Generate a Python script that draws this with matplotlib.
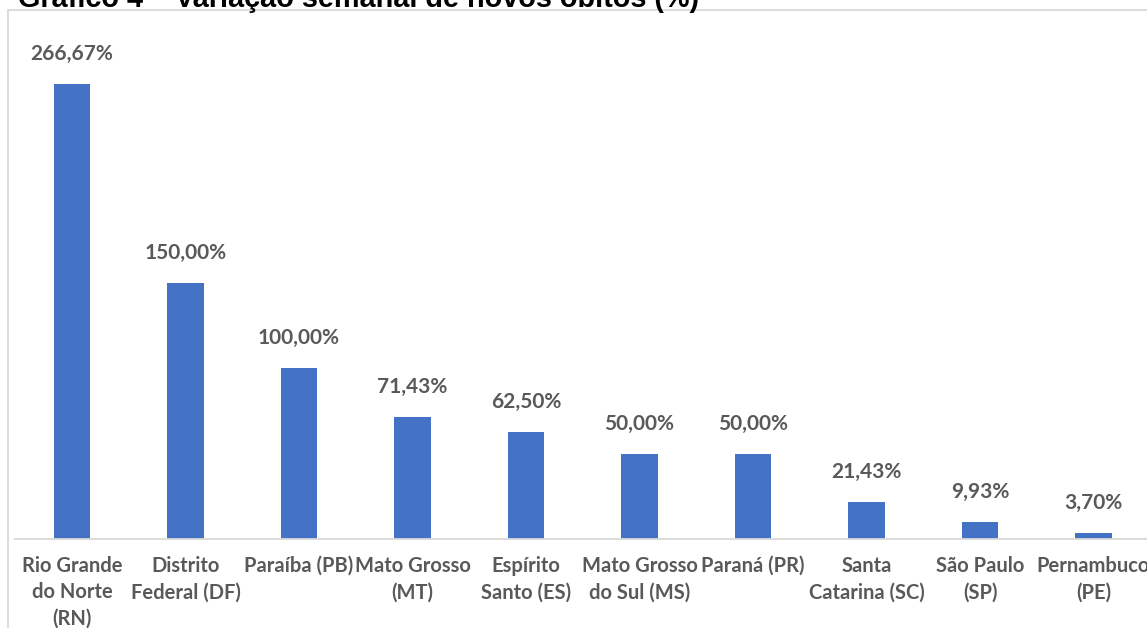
import matplotlib.pyplot as plt
from matplotlib.patches import Rectangle

# dados do gráfico
estados = ["Rio Grande\ndo Norte\n(RN)", "Distrito\nFederal (DF)", "Paraíba (PB)",
           "Mato Grosso\n(MT)", "Espírito\nSanto (ES)", "Mato Grosso\ndo Sul (MS)",
           "Paraná (PR)", "Santa\nCatarina (SC)", "São Paulo\n(SP)", "Pernambuco\n(PE)"]
variacao = [266.67, 150.00, 100.00, 71.43, 62.50, 50.00, 50.00, 21.43, 9.93, 3.70]

W, H = 1147, 628
fig = plt.figure(figsize=(W / 100, H / 100), dpi=100)

# moldura cinza do gráfico (cortada na direita e em baixo)
fig.patches.append(Rectangle((8 / W, -0.1), 1.2, 1 - 10 / H + 0.1, transform=fig.transFigure,
                             fill=False, edgecolor="#d9d9d9", linewidth=1.3))

fig.text(18 / W, 1 - 7 / H, "Gráfico 4 – Variação semanal de novos óbitos (%)",
         family="Liberation Sans", weight="bold", fontsize=20.8, va="baseline", ha="left")

ax = fig.add_axes([15.25 / W, (H - 539) / H, 1135 / W, 529 / H])
x = range(len(estados))
ax.bar(x, variacao, width=0.32, color="#4472C4")
ax.set_xlim(-0.5, len(estados) - 0.5)
ax.set_ylim(0, 310)

for i, v in zip(x, variacao):
    txt = f"{v:.2f}".replace(".", ",") + "%"
    ax.annotate(txt, (i, v), xytext=(0, 21.6), textcoords="offset points",
                ha="center", va="center", family="Lato", weight="bold",
                fontsize=15, color="#595959")

ax.set_xticks(list(x))
ax.set_xticklabels(estados, family="Lato", weight="bold", fontsize=14.5,
                   color="#595959", linespacing=1.42, va="top")
ax.tick_params(axis="x", length=0, pad=12)
ax.set_yticks([])
for s in ["top", "left", "right"]:
    ax.spines[s].set_visible(False)
ax.spines["bottom"].set_color("#d9d9d9")
ax.spines["bottom"].set_linewidth(1.3)

fig.savefig("out.png", dpi=100)
